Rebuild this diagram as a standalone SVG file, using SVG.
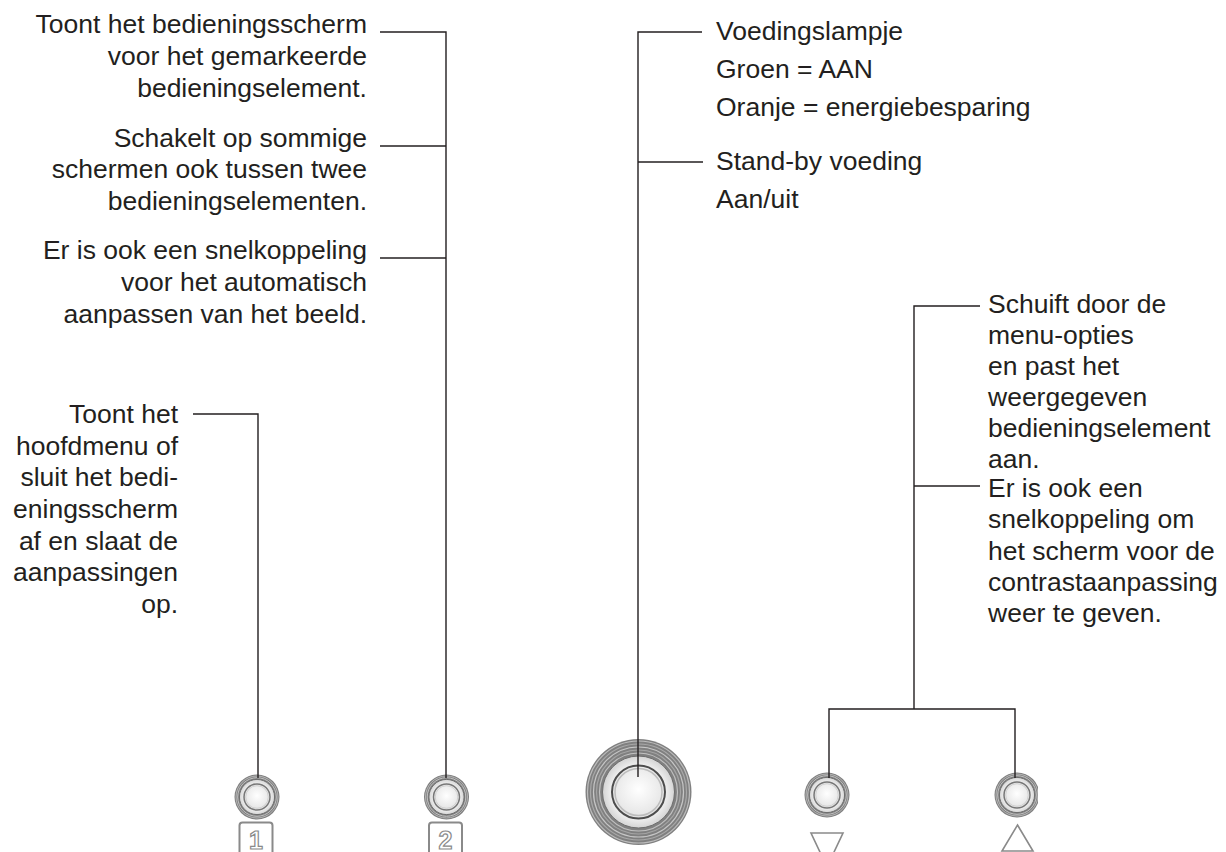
<svg xmlns="http://www.w3.org/2000/svg" xmlns:xlink="http://www.w3.org/1999/xlink" width="1226" height="852" viewBox="0 0 1226 852">
<style>
  .t { font-family: "Liberation Sans", Arial, Helvetica, sans-serif; font-size: 26.5px; fill: #231f20; }
  .r { text-anchor: end; }
  .c { fill: none; stroke: #231f20; stroke-width: 1.4; }
  .key { fill: #fff; stroke: #8a8a8a; stroke-width: 2; }
  .digit { font-family: "Liberation Sans", Arial, sans-serif; font-size: 25px; font-weight: bold; fill: #fff; stroke: #8a8a8a; stroke-width: 1.2; text-anchor: middle; }
  .tri { fill: #fff; stroke: #8a8a8a; stroke-width: 1.6; }
</style>
<defs>
  <radialGradient id="lightRing" cx="0.5" cy="0.5" r="0.5">
    <stop offset="0.6" stop-color="#ffffff"/>
    <stop offset="1" stop-color="#d4d4d4"/>
  </radialGradient>
  <radialGradient id="core" cx="0.5" cy="0.45" r="0.55">
    <stop offset="0" stop-color="#ffffff"/>
    <stop offset="1" stop-color="#e3e3e3"/>
  </radialGradient>
  <g id="smallBtn">
    <circle r="22.5" fill="#7e7e7e"/>
    <circle r="21" fill="none" stroke="#b5b5b5" stroke-width="1"/>
    <circle r="19.3" fill="none" stroke="#c2c2c2" stroke-width="1"/>
    <circle r="17.6" fill="url(#lightRing)" stroke="#6e6e6e" stroke-width="1"/>
    <circle r="13" fill="url(#core)" stroke="#777" stroke-width="1.5"/>
    <circle r="11.3" fill="none" stroke="#d0d0d0" stroke-width="1"/>
  </g>
  <clipPath id="clipRight">
    <rect x="980" y="760" width="58" height="70"/>
  </clipPath>
</defs>

<rect width="1226" height="852" fill="#ffffff"/>

<g id="label-toont-bedieningsscherm" class="t r">
  <text x="367" y="33">Toont het bedieningsscherm</text>
  <text x="367" y="65">voor het gemarkeerde</text>
  <text x="367" y="97">bedieningselement.</text>
</g>
<g id="label-schakelt" class="t r">
  <text x="367" y="147">Schakelt op sommige</text>
  <text x="367" y="178">schermen ook tussen twee</text>
  <text x="367" y="210">bedieningselementen.</text>
</g>
<g id="label-snelkoppeling-beeld" class="t r">
  <text x="367" y="259">Er is ook een snelkoppeling</text>
  <text x="367" y="291">voor het automatisch</text>
  <text x="367" y="323">aanpassen van het beeld.</text>
</g>
<g id="label-hoofdmenu" class="t r">
  <text x="178" y="423">Toont het</text>
  <text x="178" y="455">hoofdmenu of</text>
  <text x="178" y="486">sluit het bedi-</text>
  <text x="178" y="518">eningsscherm</text>
  <text x="178" y="550">af en slaat de</text>
  <text x="178" y="581">aanpassingen</text>
  <text x="178" y="613">op.</text>
</g>
<g id="label-voedingslampje" class="t">
  <text x="716" y="40">Voedingslampje</text>
  <text x="716" y="78">Groen = AAN</text>
  <text x="716" y="116">Oranje = energiebesparing</text>
</g>
<g id="label-standby" class="t">
  <text x="716" y="170">Stand-by voeding</text>
  <text x="716" y="208">Aan/uit</text>
</g>
<g id="label-schuift" class="t">
  <text x="988" y="313">Schuift door de</text>
  <text x="988" y="344">menu-opties</text>
  <text x="988" y="375">en past het</text>
  <text x="988" y="406">weergegeven</text>
  <text x="988" y="437">bedieningselement</text>
  <text x="988" y="468">aan.</text>
</g>
<g id="label-contrast" class="t">
  <text x="988" y="497">Er is ook een</text>
  <text x="988" y="528">snelkoppeling om</text>
  <text x="988" y="560">het scherm voor de</text>
  <text x="988" y="591">contrastaanpassing</text>
  <text x="988" y="622">weer te geven.</text>
</g>

<g id="button-1">
  <use xlink:href="#smallBtn" x="257" y="797"/>
  <rect class="key" x="239.5" y="822.5" width="33" height="40" rx="3"/>
  <text class="digit" x="256" y="849">1</text>
</g>
<g id="button-2">
  <use xlink:href="#smallBtn" x="446.5" y="797"/>
  <rect class="key" x="429" y="822.5" width="33" height="40" rx="3"/>
  <text class="digit" x="445.5" y="849">2</text>
</g>
<g id="button-power">
  <circle cx="638.5" cy="792" r="53" fill="#808080"/>
  <circle cx="638.5" cy="792" r="51" fill="none" stroke="#bdbdbd" stroke-width="1.2"/>
  <circle cx="638.5" cy="792" r="48" fill="none" stroke="#a8a8a8" stroke-width="1.2"/>
  <circle cx="638.5" cy="792" r="45" fill="none" stroke="#c6c6c6" stroke-width="1.2"/>
  <circle cx="638.5" cy="792" r="42" fill="none" stroke="#a4a4a4" stroke-width="1.2"/>
  <circle cx="638.5" cy="792" r="39" fill="none" stroke="#c0c0c0" stroke-width="1.2"/>
  <circle cx="638.5" cy="792" r="36" fill="url(#lightRing)" stroke="#6e6e6e" stroke-width="1"/>
  <circle cx="638.5" cy="792" r="26.5" fill="url(#core)" stroke="#4d4d4d" stroke-width="2"/>
  <circle cx="638.5" cy="792" r="23.5" fill="none" stroke="#bdbdbd" stroke-width="1.5"/>
</g>
<g id="button-down">
  <use xlink:href="#smallBtn" x="827" y="795"/>
  <polygon class="tri" points="811,833 843,833 827,867"/>
</g>
<g id="button-up">
  <g clip-path="url(#clipRight)">
    <use xlink:href="#smallBtn" x="1017" y="795"/>
  </g>
  <polygon class="tri" points="1017.5,825 1033,851 1002,851"/>
</g>

<g id="connectors" class="c">
  <path d="M380,32 H446 V778"/>
  <path d="M380,146 H446"/>
  <path d="M380,258 H446"/>
  <path d="M193,414 H258 V778"/>
  <path d="M702,32 H638 V777"/>
  <path d="M638,162 H703"/>
  <path d="M980,306 H914 V709"/>
  <path d="M914,486 H980"/>
  <path d="M829,778 V709 H1015 V778"/>
</g>
</svg>
